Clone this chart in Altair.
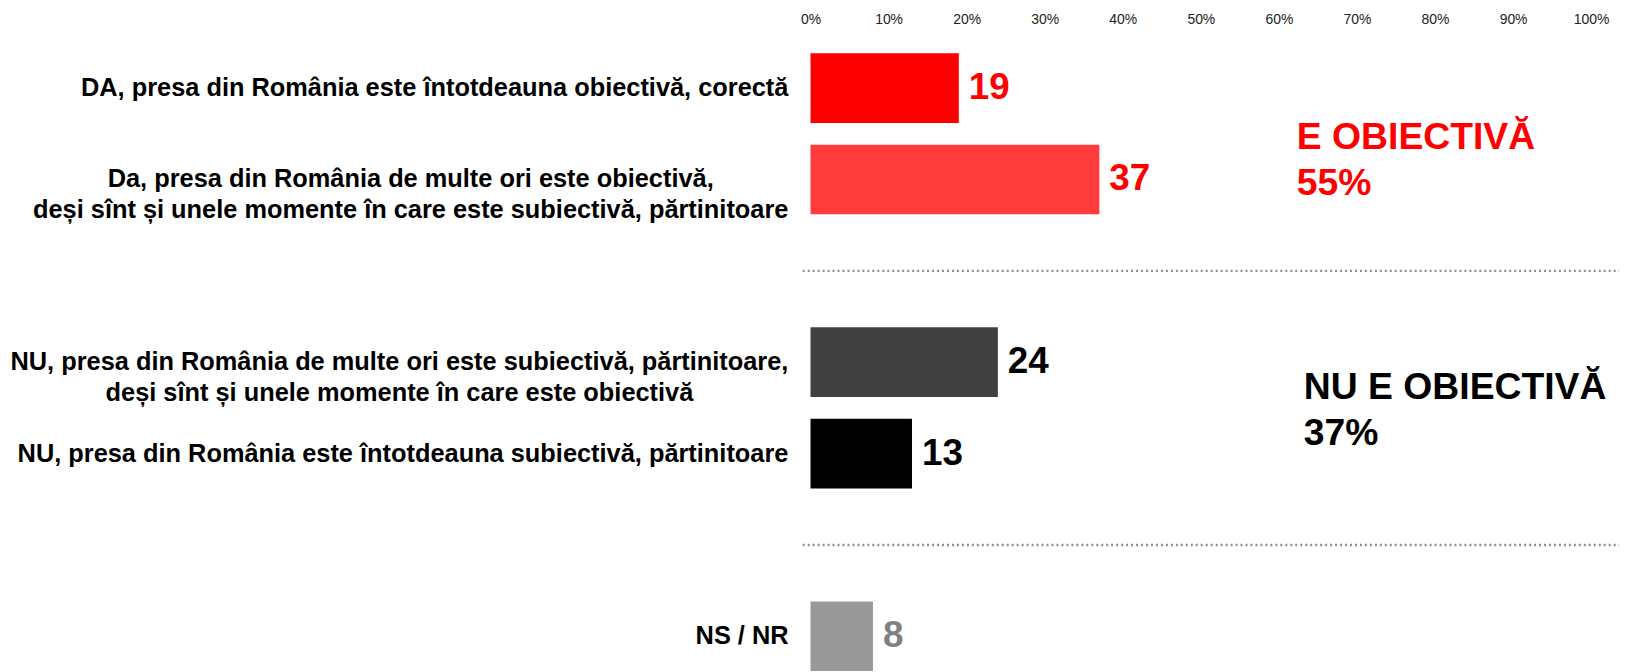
import altair as alt
import pandas as pd

# ---- data ----
labels = [
    "DA, presa din România este întotdeauna obiectivă, corectă",
    "Da, presa din România de multe ori este obiectivă,\ndeși sînt și unele momente în care este subiectivă, părtinitoare",
    "NU, presa din România de multe ori este subiectivă, părtinitoare,\ndeși sînt și unele momente în care este obiectivă",
    "NU, presa din România este întotdeauna subiectivă, părtinitoare",
    "NS / NR",
]
values = [19, 37, 24, 13, 8]
bar_colors = ["#FF0000", "#FF3B3B", "#404040", "#000000", "#999999"]
value_colors = ["#FF0000", "#FF0000", "#000000", "#000000", "#808080"]
keys = ["r1", "r2", "r3", "r4", "r5"]
row_order = ["r1", "r2", "g1", "r3", "r4", "g2", "r5"]
separator_keys = ["g1", "g2"]
tick_values = [0, 10, 20, 30, 40, 50, 60, 70, 80, 90, 100]

group_titles = ["E OBIECTIVĂ", "NU E OBIECTIVĂ"]
group_totals = ["55%", "37%"]
group_colors = ["#FF0000", "#000000"]
group_anchor = ["r1", "r3"]
group_x = [62.3, 63.2]

# ---- layout / style ----
FONT = "Liberation Sans"
PLOT_W = 784.5
STEP = 91.8
PLOT_H = STEP * len(row_order)
PX_PER_UNIT = PLOT_W / 100.0
LABEL_SIZE = 25.5
LABEL_PAD = 22
PAD_INNER = 0.237

# approximate Arial Bold advance widths (per 1000 em), to centre multi-line labels
W = {' ': 278, ',': 278, '/': 278, 'A': 722, 'D': 722, 'N': 722, 'U': 722, 'R': 722,
     'S': 667, 'a': 556, 'b': 611, 'c': 556, 'd': 611, 'e': 556, 'i': 278, 'l': 278,
     'm': 889, 'n': 611, 'o': 611, 'p': 611, 'r': 389, 's': 556, 't': 333, 'u': 611,
     'v': 556, 'â': 556, 'ă': 556, 'î': 278, 'ș': 556, 'ț': 333}


def text_w(s):
    return sum(W.get(ch, 556) for ch in s) / 1000.0 * LABEL_SIZE


label_x = []
for lab in labels:
    wmax = max(text_w(line) for line in lab.split("\n"))
    label_x.append(-(LABEL_PAD + wmax / 2.0) / PX_PER_UNIT)

df = pd.DataFrame({
    "key": keys, "label": labels, "value": values,
    "bar_color": bar_colors, "value_color": value_colors, "label_x": label_x,
})
sep_df = pd.DataFrame({"key": separator_keys})

yscale = alt.Scale(domain=row_order, paddingInner=PAD_INNER, paddingOuter=PAD_INNER / 2)
xscale = alt.Scale(domain=[0, 100], nice=False, zero=True)

base = alt.Chart(df)

bars = base.mark_bar().encode(
    y=alt.Y("key:N", scale=yscale, axis=None),
    x=alt.X("value:Q", scale=xscale, axis=alt.Axis(
        orient="top", values=tick_values, labelExpr="datum.value + '%'",
        domain=False, ticks=False, tickSize=0, grid=False, title=None,
        labelFontSize=14, labelColor="#222222", labelPadding=16,
        labelFlush=False, labelOverlap=False, labelFont=FONT)),
    color=alt.Color("bar_color:N", scale=None),
)

value_text = base.mark_text(
    align="left", baseline="middle", dx=10, fontSize=37, fontWeight="bold", font=FONT
).encode(
    y=alt.Y("key:N", scale=yscale),
    x=alt.X("value:Q", scale=xscale),
    text=alt.Text("value:Q"),
    color=alt.Color("value_color:N", scale=None),
)

cat_text = base.mark_text(
    align="center", baseline="middle", lineBreak="\n", lineHeight=31,
    fontSize=LABEL_SIZE, fontWeight="bold", font=FONT, color="#000000"
).encode(
    y=alt.Y("key:N", scale=yscale),
    x=alt.X("label_x:Q", scale=xscale),
    text="label:N",
)

seps = alt.Chart(sep_df).mark_rule(
    color="#8F8F8F", strokeWidth=2.5, strokeDash=[2, 3]
).encode(
    y=alt.Y("key:N", scale=yscale, bandPosition=0.5),
    x=alt.datum(-1, scale=xscale),
    x2=alt.datum(104),
)

group_layers = []
dys = [61, 37]
for i in range(len(group_titles)):
    gdf = pd.DataFrame({
        "key": [group_anchor[i]],
        "txt": [group_titles[i] + "\n" + group_totals[i]],
        "gx": [group_x[i]],
    })
    group_layers.append(
        alt.Chart(gdf).mark_text(
            align="left", baseline="alphabetic", lineBreak="\n", lineHeight=46.5,
            fontSize=37.5, fontWeight="bold", font=FONT, color=group_colors[i], dy=dys[i]
        ).encode(
            y=alt.Y("key:N", scale=yscale),
            x=alt.X("gx:Q", scale=xscale),
            text="txt:N",
        )
    )

chart = alt.layer(bars, value_text, cat_text, seps, *group_layers).properties(
    width=PLOT_W, height=PLOT_H,
    autosize=alt.AutoSizeParams(type="none"),
    padding={"left": 806.5, "top": 33, "right": 28, "bottom": 0},
    background="white",
).configure(
    font=FONT,
    view=alt.ViewConfig(stroke=None),
    axis=alt.AxisConfig(grid=False),
)

chart.save("out.html", embed_options={"renderer": "svg", "actions": False})
